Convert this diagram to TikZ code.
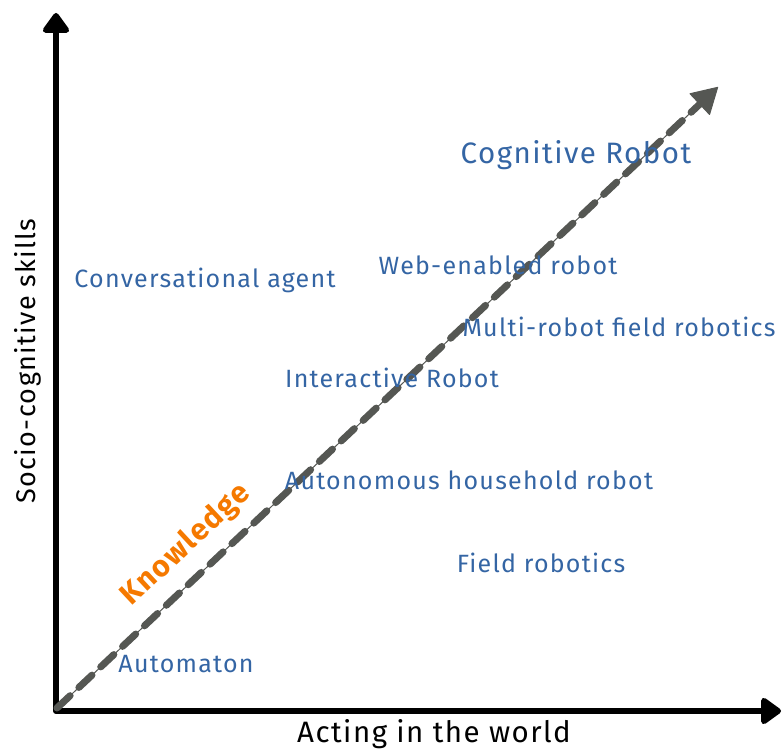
\documentclass[tikz,border=0pt]{standalone}
\usepackage{fontspec}
\setmainfont[LetterSpace=5]{Fira Sans}
\usetikzlibrary{arrows.meta,positioning}
\definecolor{tblue}{HTML}{3465A4}
\definecolor{torange}{HTML}{F57900}
\definecolor{tgray}{HTML}{555753}
\tikzset{
 axis/.style={line width=6pt,line join=round,{Triangle[length=22pt,width=30pt,round]}-{Triangle[length=22pt,width=30pt,round]}},
 robot/.style={text=tblue,font=\fontsize{25}{30}\selectfont,inner sep=0pt},
 axislabel/.style={font=\fontsize{27}{32}\selectfont,inner sep=0pt}
}
\begin{document}
\begin{tikzpicture}[x=1pt,y=1pt]
\useasboundingbox (0,0) rectangle (783,749);
\coordinate(O)at(56,38);
\coordinate(Y)at(56,736);
\coordinate(X)at(781,38);
\draw[axis](Y)--(O)--(X);
\node[axislabel,font=\fontsize{29.5}{34}\selectfont](acting)at(434,15){Acting in the world};
\node[axislabel,rotate=90](socio)at(28,388){Socio-cognitive skills};
%knowledge arrow
\coordinate(K0)at(57,41);
\coordinate(K1)at(718,662);
\draw[tgray,line width=7pt,line cap=round,dash pattern=on 18pt off 12pt,shorten >=20pt](K0)--(K1);
\draw[tgray,line width=1pt,-{Triangle[length=26pt,width=30pt,round]}](K0)--(K1);
\node[text=torange,font=\bfseries\fontsize{30}{34}\selectfont,rotate=43,inner sep=0pt](know)at(186,204){Knowledge};
%robots
\node[robot,font=\fontsize{29.5}{34}\selectfont](cog)at(576,594){Cognitive Robot};
\node[robot](web)at(498,484){Web-enabled robot};
\node[robot](conv)at(205,469){Conversational agent};
\node[robot](multi)at(619,422){Multi-robot field robotics};
\node[robot](inter)at(392,371){Interactive Robot};
\node[robot](house)at(469,269){Autonomous household robot};
\node[robot](field)at(541,186){Field robotics};
\node[robot](autom)at(186,85){Automaton};
\end{tikzpicture}
\end{document}
